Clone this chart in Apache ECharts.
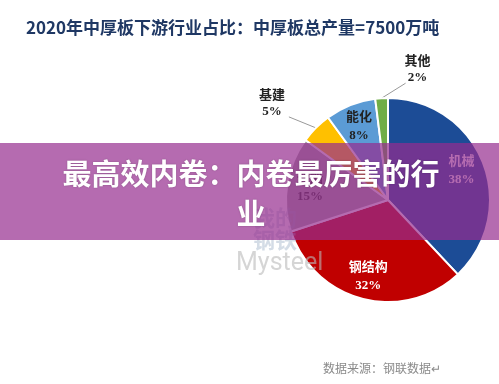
<!DOCTYPE html>
<html>
<head>
<meta charset="utf-8">
<script src="https://cdn.jsdelivr.net/npm/echarts@6/dist/echarts.min.js"></script>
<style>
html,body{margin:0;padding:0;background:#fff;}
#c{width:499px;height:384px;}
</style>
</head>
<body>
<div id="c"></div>
<script>
// ---- data ----
const titleText = '2020年中厚板下游行业占比：中厚板总产量=7500万吨';
const categories = ['机械', '钢结构', '造船', '基建', '能化', '其他'];
const shares = [38, 32, 15, 5, 8, 2];
const sliceColors = ['#1C4C96', '#C00000', '#A5A5A5', '#FFC000', '#5B9BD5', '#70AD47'];
const insideLabelColors = ['#ffffff', '#ffffff', '#333333', '#222222', '#222222', '#222222'];
const outsideIdx = [3, 5];
const sourceText = '数据来源：钢联数据↵';
const bannerText = '最高效内卷：内卷最厉害的行业';

const chart = echarts.init(document.getElementById('c'), null, {renderer: 'canvas'});
const CX = 388, CY = 200, R = 102;
const labelFont = '"Liberation Serif", "Noto Sans CJK SC", serif';

const mainData = categories.map((n, i) => ({
  name: n,
  value: shares[i],
  itemStyle: {color: sliceColors[i]},
  label: {show: outsideIdx.includes(i)}
}));
const labelData = categories.map((n, i) => ({
  name: n,
  value: shares[i],
  label: {show: !outsideIdx.includes(i), color: insideLabelColors[i]}
}));

chart.setOption({
  animation: false,
  title: {
    text: titleText,
    left: 21, top: 14,
    textStyle: {fontSize: 17, fontWeight: 'bold', color: '#1F3864', fontFamily: '"Noto Sans CJK SC", sans-serif'}
  },
  series: [
    {
      type: 'pie',
      center: [CX, CY],
      radius: [0, R],
      startAngle: 90,
      clockwise: true,
      silent: true,
      data: mainData,
      itemStyle: {borderColor: '#ffffff', borderWidth: 2},
      label: {
        position: 'outside',
        formatter: '{b}\n{d}%',
        fontSize: 13, fontWeight: 'bold', lineHeight: 16,
        color: '#222', fontFamily: labelFont
      },
      labelLine: {show: true, length: 10, length2: 5, lineStyle: {color: '#999', width: 1}},
      labelLayout: function (p) {
        const pts = p.labelLinePoints;
        if (!pts) return;
        const e = pts[0];
        if (p.dataIndex === 3) {
          const end = [e[0] - 27, e[1] - 11];
          return {
            x: e[0] - 44, y: e[1] - 8,
            align: 'center', verticalAlign: 'bottom',
            labelLinePoints: [e, end, end]
          };
        }
        if (p.dataIndex === 5) {
          const end = [e[0] + 24, e[1] - 15];
          return {
            x: e[0] + 36, y: e[1] - 13,
            align: 'center', verticalAlign: 'bottom',
            labelLinePoints: [e, end, end]
          };
        }
      }
    },
    {
      type: 'pie',
      center: [CX, CY],
      radius: [0, 152],
      startAngle: 90,
      clockwise: true,
      silent: true,
      data: labelData,
      itemStyle: {color: 'rgba(0,0,0,0)', borderWidth: 0},
      label: {
        position: 'inside',
        formatter: '{b}\n{d}%',
        fontSize: 13, fontWeight: 'bold', lineHeight: 18,
        fontFamily: labelFont
      },
      labelLine: {show: false}
    }
  ],
  graphic: [
    {type: 'text', left: 253, top: 207, z: 5, silent: true,
      style: {text: '我的', fontSize: 22, fill: 'rgba(160,178,200,0.45)', fontFamily: '"Noto Sans CJK SC"', fontWeight: 'bold'}},
    {type: 'text', left: 253, top: 229, z: 5, silent: true,
      style: {text: '钢铁', fontSize: 22, fill: 'rgba(160,178,200,0.45)', fontFamily: '"Noto Sans CJK SC"', fontWeight: 'bold'}},
    {type: 'text', left: 236, top: 251, z: 5, silent: true,
      style: {text: 'Mysteel', fontSize: 25, fill: 'rgba(185,185,185,0.6)', fontFamily: 'Roboto, "DejaVu Sans"'}},
    {type: 'rect', z: 10, silent: true,
      shape: {x: 0, y: 143, width: 499, height: 97},
      style: {fill: 'rgba(149,44,142,0.7)'}},
    {type: 'text', z: 11, silent: true, x: 251, y: 154,
      style: {
        text: bannerText, width: 395, overflow: 'break',
        fontSize: 29, fontWeight: 'bold', lineHeight: 40,
        fill: '#ffffff', align: 'center', verticalAlign: 'top',
        fontFamily: '"Noto Sans CJK SC", sans-serif',
        textShadowColor: 'rgba(0,0,0,0.25)', textShadowBlur: 2
      }},
    {type: 'text', left: 323, top: 362, z: 5, silent: true,
      style: {text: sourceText, fontSize: 12, fill: '#8a8a8a', fontFamily: '"Noto Sans CJK SC"'}}
  ]
});
</script>
</body>
</html>
